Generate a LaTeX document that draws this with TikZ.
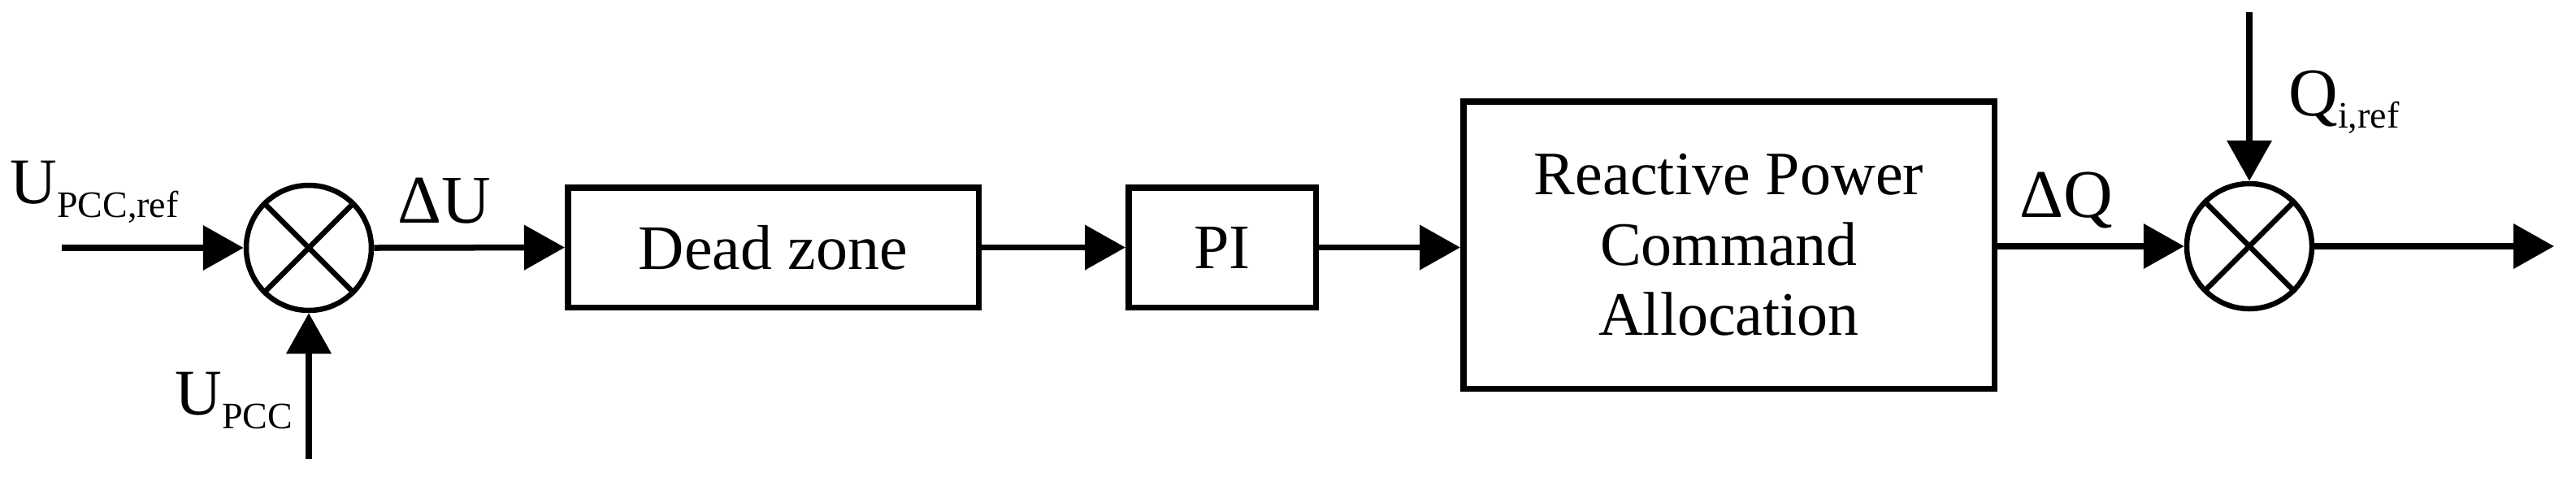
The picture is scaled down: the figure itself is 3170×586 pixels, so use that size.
\documentclass[tikz,border=0pt]{standalone}
\usepackage{fontspec}
\setmainfont{Liberation Serif}
\usetikzlibrary{arrows.meta}
\begin{document}
\begin{tikzpicture}[x=0.5pt,y=-0.5pt,
  lbl/.style={inner sep=0pt, anchor=base west},
  blk/.style={draw, line width=3.75pt, inner sep=0pt, align=center, font=\fontsize{39}{43.25}\selectfont},
  sumnode/.style={draw, circle, line width=3.25pt, minimum size=77pt, inner sep=0pt},
  conn/.style={line width=3.75pt, -{Triangle[length=25pt,width=27pt]}},
  cross/.style={line width=3.25pt}]
\useasboundingbox (0,0) rectangle (3170,586);

% summing junctions
\node[sumnode] (s1) at (380,305) {};
\node[sumnode] (s2) at (2768,303) {};
\draw[cross] (s1.45) -- (s1.225) (s1.135) -- (s1.315);
\draw[cross] (s2.45) -- (s2.225) (s2.135) -- (s2.315);

% blocks
\node[blk, minimum width=252.75pt, minimum height=73.75pt] (dz) at (951.5,304.5) {Dead zone};
\node[blk, minimum width=115.25pt, minimum height=73.75pt] (pi) at (1504,304.5) {PI};
\node[blk, minimum width=326.75pt, minimum height=176.75pt, font=\fontsize{38}{43.25}\selectfont] (rpca) at (2127.5,301.5) {\raisebox{4pt}{}Reactive Power\\Command\\Allocation};

% free ends
\coordinate (inl) at (76,305);
\coordinate (inb) at (380,565);
\coordinate (qin) at (2768,15);
\coordinate (out) at (3143,303);

% connectors
\draw[conn] (inl) -- (s1.west);
\draw[conn] (inb) -- (s1.south);
\draw[conn] (s1.east) -- (dz.west);
\draw[conn] (dz.east) -- (pi.west);
\draw[conn] (pi.east) -- (pi.east -| rpca.west);
\draw[conn] (s2.west -| rpca.east) -- (s2.west);
\draw[conn] (qin) -- (s2.north);
\draw[conn] (s2.east) -- (out);

% labels
\node[lbl] (lref) at (12,250) {\fontsize{40}{42}\selectfont U\raisebox{-8.5pt}{\fontsize{23}{24}\selectfont PCC,ref}};
\node[lbl] (lpcc) at (215,510) {\fontsize{40}{42}\selectfont U\raisebox{-8.5pt}{\fontsize{23}{24}\selectfont PCC}};
\node[lbl] (ldu) at (489,274) {\fontsize{42}{44}\selectfont ΔU};
\node[lbl] (ldq) at (2485,267) {\fontsize{42}{44}\selectfont ΔQ};
\node[lbl] (lq) at (2816,142) {\fontsize{42}{44}\selectfont Q\raisebox{-7.5pt}{\fontsize{23}{24}\selectfont i,ref}};
\end{tikzpicture}
\end{document}
